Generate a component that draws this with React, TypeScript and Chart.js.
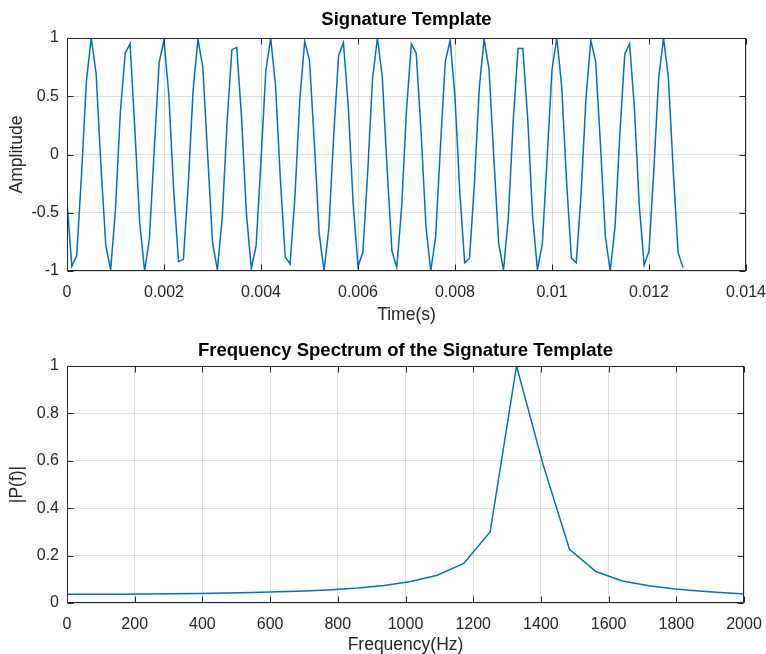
import React, { useEffect, useRef } from 'react';
import { Chart, registerables } from 'chart.js';

Chart.register(...registerables);

// ---------- data ----------
const topTitle = 'Signature Template';
const bottomTitle = 'Frequency Spectrum of the Signature Template';
const timeAxisTitle = 'Time(s)';
const ampAxisTitle = 'Amplitude';
const freqAxisTitle = 'Frequency(Hz)';
const magAxisTitle = '|P(f)|';

const sampleInterval = 0.0001; // seconds between samples

const amplitude = [
  -0.41, -0.96, -0.87, -0.17, 0.63, 1.0, 0.70, -0.10, -0.78, -0.99,
  -0.47, 0.36, 0.87, 0.95, 0.21, -0.59, -1.0, -0.72, 0.05, 0.79,
  0.98, 0.51, -0.31, -0.92, -0.90, -0.26, 0.55, 0.99, 0.75, 0.0,
  -0.75, -0.99, -0.55, 0.27, 0.90, 0.92, 0.31, -0.51, -0.98, -0.78,
  -0.05, 0.72, 1.0, 0.59, -0.22, -0.88, -0.94, -0.36, 0.47, 0.97,
  0.81, 0.10, -0.68, -1.0, -0.63, 0.17, 0.85, 0.96, 0.41, -0.42,
  -0.96, -0.84, -0.15, 0.65, 1.0, 0.67, -0.12, -0.83, -0.97, -0.45,
  0.38, 0.95, 0.87, 0.20, -0.61, -1.0, -0.71, 0.07, 0.80, 0.98,
  0.49, -0.33, -0.93, -0.89, -0.25, 0.57, 0.99, 0.74, -0.02, -0.76,
  -0.99, -0.54, 0.28, 0.91, 0.91, 0.30, -0.53, -0.99, -0.77, -0.03,
  0.73, 1.0, 0.58, -0.23, -0.89, -0.93, -0.34, 0.48, 0.98, 0.80,
  0.08, -0.70, -1.0, -0.62, 0.18, 0.86, 0.95, 0.39, -0.44, -0.95,
  -0.83, -0.13, 0.66, 1.0, 0.66, -0.14, -0.84, -0.97,
];

const timeTicks = [0, 0.002, 0.004, 0.006, 0.008, 0.01, 0.012, 0.014];
const timeTickLabels = ['0', '0.002', '0.004', '0.006', '0.008', '0.01', '0.012', '0.014'];
const ampTicks = [-1, -0.5, 0, 0.5, 1];
const ampTickLabels = ['-1', '-0.5', '0', '0.5', '1'];

const freqHz = [
  0, 78.1, 156.3, 234.4, 312.5, 390.6, 468.8, 546.9, 625, 703.1,
  781.3, 859.4, 937.5, 1015.6, 1093.8, 1171.9, 1250, 1328.1, 1406.3, 1484.4,
  1562.5, 1640.6, 1718.8, 1796.9, 1875, 1953.1, 2031.3,
];
const spectrum = [
  0.037, 0.037, 0.037, 0.038, 0.039, 0.040, 0.042, 0.044, 0.047, 0.051,
  0.056, 0.063, 0.074, 0.091, 0.117, 0.167, 0.300, 1.0, 0.585, 0.227,
  0.133, 0.093, 0.073, 0.059, 0.050, 0.042, 0.035,
];

const freqTicks = [0, 200, 400, 600, 800, 1000, 1200, 1400, 1600, 1800, 2000];
const freqTickLabels = ['0', '200', '400', '600', '800', '1000', '1200', '1400', '1600', '1800', '2000'];
const magTicks = [0, 0.2, 0.4, 0.6, 0.8, 1];
const magTickLabels = ['0', '0.2', '0.4', '0.6', '0.8', '1'];

// ---------- style ----------
const FONT = '"Liberation Sans", Arial, Helvetica, sans-serif';
const TEXT = '#262626';
const GRID = 'rgba(38,38,38,0.15)';
const LINE = '#0072BD';

const boxPlugin = {
  id: 'matlabBox',
  afterDraw(chart: any, _args: any, opts: any) {
    const { ctx, chartArea } = chart;
    const { left, right, top, bottom } = chartArea;
    const xs = chart.scales.x;
    const ys = chart.scales.y;
    ctx.save();
    ctx.strokeStyle = TEXT;
    ctx.lineWidth = 1;
    ctx.beginPath();
    const L = Math.round(left) + 0.5;
    const R = Math.round(right) - 0.5;
    const T = Math.round(top) + 0.5;
    const B = Math.round(bottom) - 0.5;
    xs.ticks.forEach((t: any) => {
      const px = Math.round(xs.getPixelForValue(t.value)) + 0.5;
      ctx.moveTo(px, B);
      ctx.lineTo(px, B - 6);
      ctx.moveTo(px, T);
      ctx.lineTo(px, T + 6);
    });
    ys.ticks.forEach((t: any) => {
      const py = Math.round(ys.getPixelForValue(t.value)) + 0.5;
      ctx.moveTo(L, py);
      ctx.lineTo(L + 6, py);
      ctx.moveTo(R, py);
      ctx.lineTo(R - 6, py);
    });
    ctx.stroke();
    ctx.strokeRect(L, T, R - L, B - T);
    ctx.fillStyle = '#000';
    ctx.font = `bold 18.5px ${FONT}`;
    ctx.textAlign = 'center';
    ctx.textBaseline = 'middle';
    ctx.fillText(opts.text, (left + right) / 2, opts.y);
    ctx.restore();
  },
};

function makeConfig(opts: {
  points: { x: number; y: number }[];
  xMin: number; xMax: number; xTicks: number[]; xLabels: string[];
  yMin: number; yMax: number; yTicks: number[]; yLabels: string[];
  xTitle: string; yTitle: string; title: string; titleY: number;
  padTop: number; padRight: number; xHeight: number; xTitlePad: number;
}) {
  return {
    type: 'line' as const,
    data: {
      datasets: [
        {
          data: opts.points,
          borderColor: LINE,
          borderWidth: 1.5,
          pointRadius: 0,
          tension: 0,
          fill: false,
        },
      ],
    },
    options: {
      animation: false as const,
      responsive: false,
      events: [],
      layout: { padding: { top: opts.padTop, right: opts.padRight, left: 0, bottom: 0 } },
      plugins: {
        legend: { display: false },
        tooltip: { enabled: false },
        title: { display: false },
        matlabBox: { text: opts.title, y: opts.titleY },
      },
      scales: {
        x: {
          type: 'linear' as const,
          min: opts.xMin,
          max: opts.xMax,
          afterBuildTicks: (s: any) => {
            s.ticks = opts.xTicks.map((v) => ({ value: v }));
          },
          afterFit: (s: any) => {
            s.height = opts.xHeight;
            s.paddingLeft = 0;
            s.paddingRight = 0;
          },
          ticks: {
            callback: (_v: any, i: number) => opts.xLabels[i],
            color: TEXT,
            font: { family: FONT, size: 16 },
            padding: 12,
            maxRotation: 0,
            autoSkip: false,
          },
          grid: { color: GRID, drawTicks: false, lineWidth: 1 },
          border: { display: false },
          title: {
            display: true,
            text: opts.xTitle,
            color: TEXT,
            font: { family: FONT, size: 17.5, lineHeight: 1.2 },
            padding: { top: 0, bottom: opts.xTitlePad },
          },
        },
        y: {
          type: 'linear' as const,
          min: opts.yMin,
          max: opts.yMax,
          afterBuildTicks: (s: any) => {
            s.ticks = opts.yTicks.map((v) => ({ value: v }));
          },
          afterFit: (s: any) => {
            s.width = 67;
            s.paddingTop = 0;
            s.paddingBottom = 0;
          },
          ticks: {
            callback: (_v: any, i: number) => opts.yLabels[i],
            color: TEXT,
            font: { family: FONT, size: 16 },
            padding: 8,
            autoSkip: false,
          },
          grid: { color: GRID, drawTicks: false, lineWidth: 1 },
          border: { display: false },
          title: {
            display: true,
            text: opts.yTitle,
            color: TEXT,
            font: { family: FONT, size: 17.5, lineHeight: 1.2 },
            padding: { top: 7, bottom: 0 },
          },
        },
      },
    },
    plugins: [boxPlugin],
  };
}

function ChartCanvas({ config, height }: { config: any; height: number }) {
  const ref = useRef<HTMLCanvasElement | null>(null);
  useEffect(() => {
    if (!ref.current) return;
    const chart = new Chart(ref.current, config);
    return () => chart.destroy();
  }, [config]);
  return (
    <canvas
      ref={ref}
      width={766}
      height={height}
      style={{ display: 'block', width: 766, height }}
    />
  );
}

const topConfig = makeConfig({
  points: amplitude.map((v, i) => ({ x: i * sampleInterval, y: v })),
  xMin: 0, xMax: 0.014, xTicks: timeTicks, xLabels: timeTickLabels,
  yMin: -1, yMax: 1, yTicks: ampTicks, yLabels: ampTickLabels,
  xTitle: timeAxisTitle, yTitle: ampAxisTitle, title: topTitle, titleY: 20,
  padTop: 38, padRight: 20, xHeight: 56, xTitlePad: 1,
});

const bottomConfig = makeConfig({
  points: spectrum.map((v, i) => ({ x: freqHz[i], y: v })),
  xMin: 0, xMax: 2000, xTicks: freqTicks, xLabels: freqTickLabels,
  yMin: 0, yMax: 1, yTicks: magTicks, yLabels: magTickLabels,
  xTitle: freqAxisTitle, yTitle: magAxisTitle, title: bottomTitle, titleY: 24,
  padTop: 39, padRight: 22, xHeight: 51, xTitlePad: -2,
});

export default function App() {
  return (
    <div style={{ position: 'fixed', left: 0, top: 0, width: 766, height: 654, background: '#fff', overflow: 'hidden' }}>
      <ChartCanvas config={topConfig} height={327} />
      <ChartCanvas config={bottomConfig} height={327} />
    </div>
  );
}
